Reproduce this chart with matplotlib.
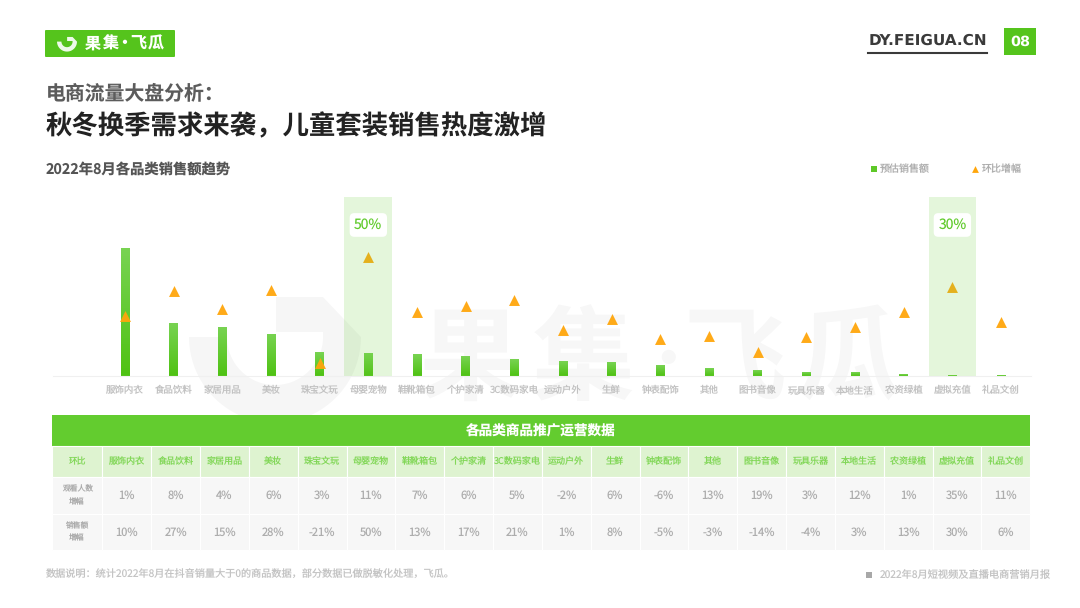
import numpy as np
import matplotlib
matplotlib.use("Agg")
import matplotlib.pyplot as plt
from matplotlib.colors import LinearSegmentedColormap
from matplotlib.patches import Polygon, Rectangle, FancyBboxPatch

plt.rcParams['font.family'] = ['Noto Sans CJK SC', 'DejaVu Sans']
plt.rcParams['text.hinting'] = 'no_hinting'

categories = ["服饰内衣", "食品饮料", "家居用品", "美妆", "珠宝文玩", "母婴宠物", "鞋靴箱包",
              "个护家清", "3C数码家电", "运动户外", "生鲜", "钟表配饰", "其他", "图书音像",
              "玩具乐器", "本地生活", "农资绿植", "虚拟充值", "礼品文创"]
# bar heights (no axis in the original, relative units)
sales = [128, 53, 49, 42.5, 24, 23, 22, 20, 17, 15, 14, 11, 8, 6, 4, 4, 2, 1, 1]
viewers_growth = [1, 8, 4, 6, 3, 11, 7, 6, 5, -2, 6, -6, 13, 19, 3, 12, 1, 35, 11]
sales_growth = [10, 27, 15, 28, -21, 50, 13, 17, 21, 1, 8, -5, -3, -14, -4, 3, 13, 30, 6]
highlighted = [5, 17]

GREEN = "#55c41c"
TRI = "#ffa60c"

fig = plt.figure(figsize=(10.8, 6.08), dpi=100, facecolor="white")

# full page layer in pixel coords, under the chart
bg = fig.add_axes([0, 0, 1, 1], zorder=0)
bg.set_xlim(0, 1080)
bg.set_ylim(608, 0)
bg.axis("off")


def logo_shape(cx, cy, k):
    # the feigua mark: open ring with a square flag at the top right
    t = np.linspace(np.pi, 0, 60)
    outer = np.c_[cx + 86 * k * np.cos(t), cy + 86 * k * np.sin(t)]
    inner = np.c_[cx + 48 * k * np.cos(t[::-1]), cy + 48 * k * np.sin(t[::-1])]
    flag = np.array([[86, 0], [48, -40], [1, -40], [1, -5], [48, -5], [48, 0]]) * k + [cx, cy]
    return np.vstack([outer, flag, inner])


bg.add_patch(Polygon(logo_shape(275, 337, 1), fc="black", alpha=0.035, ec="none"))
for ch, x, size in zip("果集·飞瓜", [470, 583, 668, 735, 848], [74, 74, 40, 74, 74]):
    bg.text(x, 362, ch, fontsize=size, weight="bold", color="black", alpha=0.03,
            ha="center", va="center")

# chart
ax = fig.add_axes([53 / 1080, (608 - 376) / 608, 978 / 1080, 179 / 608], zorder=2)
ax.patch.set_alpha(0)
x = np.arange(len(categories))
cmap = LinearSegmentedColormap.from_list("bar", ["#78d352", "#4fc213"])
grad = np.linspace(0, 1, 64).reshape(-1, 1)
bars = ax.bar(x, sales, width=0.175, color="none", edgecolor="none")
for b in bars:
    im = ax.imshow(grad, cmap=cmap, aspect="auto", zorder=2,
                   extent=[b.get_x(), b.get_x() + b.get_width(), 0, b.get_height()])
    im.set_clip_path(b)
ax.set_xlim(-1.479, 18.615)
ax.set_ylim(0, 179)
ax.set_yticks([])
ax.set_xticks([])
# category labels as annotations, tick labels would not stay on one baseline
for i, name in enumerate(categories):
    ax.annotate(name, (i, 0), xytext=(0, -12.5), textcoords="offset points", fontsize=6.8,
                color="#c2c2c2", ha="center", va="baseline", annotation_clip=False)
for s in ["top", "left", "right"]:
    ax.spines[s].set_visible(False)
ax.spines["bottom"].set_color("#f0f0f0")

ax2 = ax.twinx()
ax2.set_zorder(3)
ax2.patch.set_alpha(0)
ax2.set_ylim(-30, 90.3)
ax2.set_yticks([])
for s in ax2.spines.values():
    s.set_visible(False)
ax2.scatter(x, sales_growth, marker="^", s=62, color=TRI, linewidths=0, zorder=2, alpha=0.95)
for i in highlighted:
    ax2.axvspan(i - 0.49, i + 0.49, color="#6bcf39", alpha=0.18, lw=0, zorder=3)
    ax2.text(i, 71.5, f"{sales_growth[i]}%", fontsize=10, color="#62cb2e", ha="center", va="center",
             zorder=4, bbox=dict(boxstyle="round,pad=0.33", fc="white", ec="none"))

# top layer: header, legend, table, footer
top = fig.add_axes([0, 0, 1, 1], zorder=5)
top.set_xlim(0, 1080)
top.set_ylim(608, 0)
top.axis("off")
top.patch.set_alpha(0)

top.add_patch(FancyBboxPatch((46, 31), 128, 25, boxstyle="round,pad=1", fc=GREEN, ec="none"))
top.add_patch(Polygon(logo_shape(67, 41.6, 0.116), fc="white", ec="none", alpha=0.9))
for ch, cx in zip("果集·飞瓜", [93, 110, 124, 138, 156]):
    top.text(cx, 43.5, ch, fontsize=11.5, weight="bold", color="white", ha="center", va="center")

top.text(869, 41, "DY.FEIGUA.CN", fontsize=11, weight="bold", color="#3a3a3a",
         family="DejaVu Sans", va="center")
top.plot([868, 987], [53, 53], color="#3a3a3a", lw=1.5)
top.add_patch(Rectangle((1004, 28), 32, 27, fc=GREEN, ec="none"))
top.text(1020, 41.5, "08", fontsize=10.4, weight="bold", color="white", ha="center", va="center",
         family="DejaVu Sans")

top.text(46, 93, "电商流量大盘分析：", fontsize=14.3, weight="bold", color="#5c5c5c", va="center")
top.text(46, 127, "秋冬换季需求来袭，儿童套装销售热度激增", fontsize=19, weight="bold", color="#222222", va="center")
top.text(46, 170, "2022年8月各品类销售额趋势", fontsize=10.3, weight="bold", color="#555555", va="center")

top.scatter([874], [169], marker="s", s=20, color="#5ec828", linewidths=0)
top.text(880, 169, "预估销售额", fontsize=7.2, color="#adadad", va="center")
top.scatter([975], [169], marker="^", s=24, color=TRI, linewidths=0)
top.text(982, 169, "环比增幅", fontsize=7.2, color="#adadad", va="center")

# table
left, col0, right = 52, 102.3, 1030.3
cw = (right - col0) / len(categories)
rows_y = [445.5, 476.5, 513.5, 550]
top.add_patch(Rectangle((left, 415), right - left, 30.5, fc="#63cc2f", ec="none"))
top.text((left + right) / 2, 431, "各品类商品推广运营数据", fontsize=9.8, weight="bold", color="white", ha="center", va="center")


def cell(x0, w, r, txt, fc, color, size):
    y0, y1 = rows_y[r], rows_y[r + 1]
    top.add_patch(Rectangle((x0, y0), w, y1 - y0, fc=fc, ec="white", lw=0.8))
    # baseline aligned so that every label in a row sits at the same height
    lines = txt.split("\n")
    px = size * 100 / 72
    step = px * 1.6
    yc = (y0 + y1) / 2 - step * (len(lines) - 1) / 2
    for n, line in enumerate(lines):
        top.text(x0 + w / 2, yc + n * step + 0.36 * px, line, fontsize=size, color=color,
                 ha="center", va="baseline")


cell(left, col0 - left, 0, "环比", "#def3d0", "#82d758", 6.3)
cell(left, col0 - left, 1, "观看人数\n增幅", "#f7f7f7", "#ababab", 5.6)
cell(left, col0 - left, 2, "销售额\n增幅", "#f7f7f7", "#ababab", 5.6)
for i, name in enumerate(categories):
    x0 = col0 + i * cw
    cell(x0, cw, 0, name, "#def3d0", "#82d758", 6.5)
    cell(x0, cw, 1, f"{viewers_growth[i]}%", "#f7f7f7", "#adadad", 8)
    cell(x0, cw, 2, f"{sales_growth[i]}%", "#f7f7f7", "#adadad", 8)

top.text(46, 575, "数据说明：统计2022年8月在抖音销量大于0的商品数据，部分数据已做脱敏化处理，飞瓜。", fontsize=7.3, color="#c4c4c4", va="center")
top.add_patch(Rectangle((866, 572), 6, 6, fc="#a8a8a8", ec="none"))
top.text(880, 575, "2022年8月短视频及直播电商营销月报", fontsize=7.35, color="#c4c4c4", va="center")

fig.savefig("out.png", dpi=100)
